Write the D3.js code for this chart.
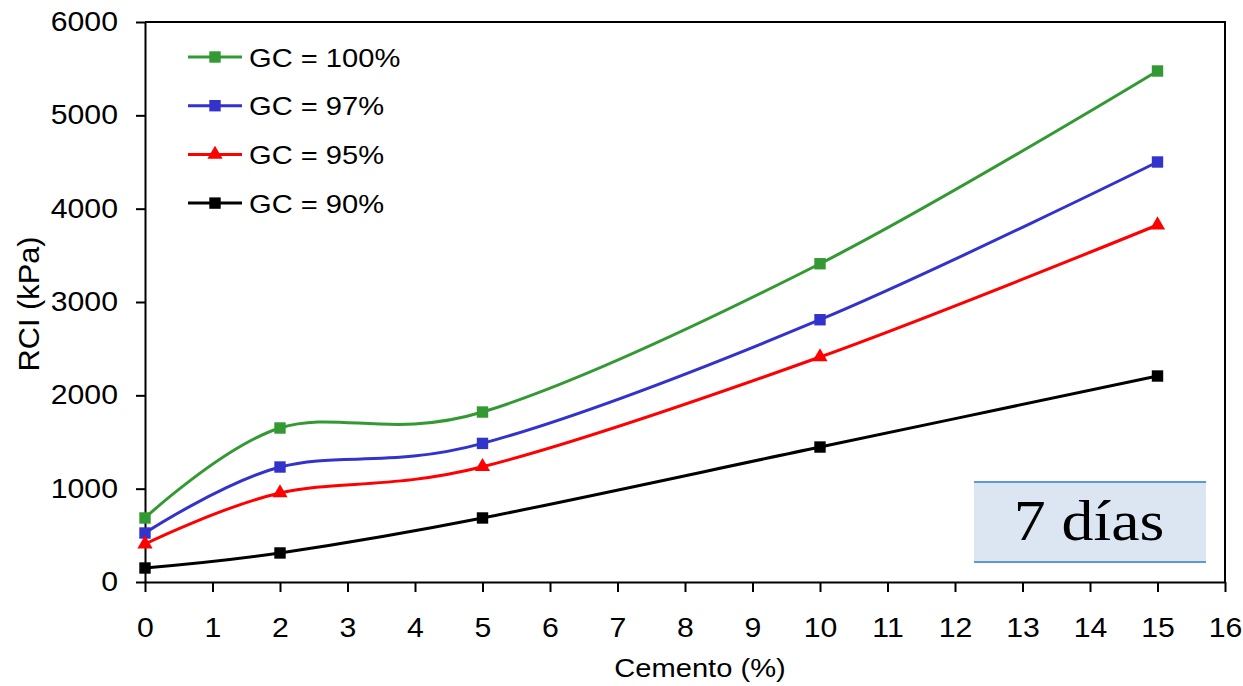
<!DOCTYPE html>
<html>
<head>
<meta charset="utf-8">
<script src="https://cdn.jsdelivr.net/npm/d3@7"></script>
<style>
  body { margin: 0; background: #fff; }
  svg { display: block; }
  text { fill: #000; }
</style>
</head>
<body>
<svg id="chart"></svg>
<script>
// Datos
let cemento = [0, 2, 5, 10, 15];
let gc100 = [686, 1650, 1821, 3410, 5475];
let gc97 = [525, 1232, 1485, 2810, 4500];
let gc95 = [407, 954, 1235, 2411, 3825];
let gc90 = [150, 311, 686, 1446, 2207];
let seriesNames = ["GC = 100%", "GC = 97%", "GC = 95%", "GC = 90%"];
let xTicks = [0, 1, 2, 3, 4, 5, 6, 7, 8, 9, 10, 11, 12, 13, 14, 15, 16];
let yTicks = [0, 1000, 2000, 3000, 4000, 5000, 6000];
let xTitle = "Cemento (%)";
let yTitle = "RCI (kPa)";
let boxLabel = "7 días";

// estilos de cada serie
let colors = ["#339933", "#3333cc", "#ff0000", "#000000"];
let markers = [d3.symbolSquare, d3.symbolSquare, d3.symbolTriangle, d3.symbolSquare];
let allSeries = [gc100, gc97, gc95, gc90];

let width = 1243, height = 686;
let plot = { left: 145, right: 1225, top: 22, bottom: 582 };
let sans = "'Liberation Sans', Arial, sans-serif";
// el texto original sale algo estirado en horizontal
let stretch = 1.12;

let svg = d3.select("#chart")
    .attr("width", width)
    .attr("height", height);

// Escalas
let x = d3.scaleLinear().domain([0, 16]).range([plot.left, plot.right]);
let y = d3.scaleLinear().domain([0, 6000]).range([plot.bottom, plot.top]);

// Borde superior y derecho del area del grafico
svg.append("path")
    .attr("d", `M${plot.left},${plot.top}H${plot.right}V${plot.bottom}`)
    .attr("fill", "none")
    .attr("stroke", "#000")
    .attr("stroke-width", 2);

// Ejes
let axisX = d3.axisBottom(x).tickValues(xTicks).tickFormat(d3.format("d"))
    .tickSize(10).tickSizeOuter(0).tickPadding(26);
let axisY = d3.axisLeft(y).tickValues(yTicks).tickFormat(d3.format("d"))
    .tickSize(9).tickSizeOuter(0).tickPadding(18);

let gx = svg.append("g")
    .attr("transform", `translate(0,${plot.bottom})`)
    .call(axisX);
let gy = svg.append("g")
    .attr("transform", `translate(${plot.left},0)`)
    .call(axisY);

[gx, gy].forEach(g => {
    g.select(".domain").attr("stroke-width", 2);
    g.selectAll(".tick line").attr("stroke-width", 2);
    g.selectAll(".tick text")
        .style("font-size", "27px")
        .style("font-family", sans)
        .attr("transform", `scale(${stretch},1)`);
});
gy.selectAll(".tick text").attr("x", -27 / stretch);

// Titulos de ejes
svg.append("text")
    .attr("transform", `translate(700,677) scale(${stretch},1)`)
    .attr("text-anchor", "middle")
    .style("font-family", sans)
    .style("font-size", "26px")
    .text(xTitle);

svg.append("text")
    .attr("transform", "translate(39,304) rotate(-90) scale(1.14,1.09)")
    .attr("text-anchor", "middle")
    .style("font-family", sans)
    .style("font-size", "27px")
    .text(yTitle);

// Lineas suavizadas (como Excel)
let line = d3.line()
    .x((d, i) => x(cemento[i]))
    .y(d => y(d))
    .curve(d3.curveCardinal.tension(0));

let gLines = svg.append("g");
allSeries.forEach((serie, k) => {
    gLines.append("path")
        .attr("d", line(serie))
        .attr("fill", "none")
        .attr("stroke", colors[k])
        .attr("stroke-width", 3);
});

// Marcadores
let markerSize = k => markers[k] === d3.symbolTriangle ? 100 : 130;
allSeries.forEach((serie, k) => {
    let sym = d3.symbol().type(markers[k]).size(markerSize(k));
    gLines.append("g").selectAll("path")
        .data(serie)
        .enter()
        .append("path")
        .attr("d", sym)
        .attr("fill", colors[k])
        .attr("transform", (d, i) => `translate(${x(cemento[i])},${y(d)})`);
});

// Leyenda
let legend = svg.append("g").attr("transform", "translate(188,57)");
seriesNames.forEach((name, k) => {
    let row = legend.append("g").attr("transform", `translate(0,${k * 48.7})`);
    row.append("line")
        .attr("x1", 0).attr("x2", 54)
        .attr("stroke", colors[k])
        .attr("stroke-width", 3);
    row.append("path")
        .attr("d", d3.symbol().type(markers[k]).size(markerSize(k)))
        .attr("fill", colors[k])
        .attr("transform", "translate(27,0)");
    row.append("text")
        .attr("transform", `translate(61,9.5) scale(${stretch},1)`)
        .style("font-family", sans)
        .style("font-size", "26px")
        .text(name);
});

// Cuadro "7 dias"
let box = { x0: 974, x1: 1206, y0: 482, y1: 562 };
let gBox = svg.append("g");
gBox.append("rect")
    .attr("x", box.x0).attr("y", box.y0)
    .attr("width", box.x1 - box.x0).attr("height", box.y1 - box.y0)
    .attr("fill", "#dce6f2");
[box.y0, box.y1].forEach(yy => {
    gBox.append("line")
        .attr("x1", box.x0).attr("x2", box.x1)
        .attr("y1", yy).attr("y2", yy)
        .attr("stroke", "#5b9bd5")
        .attr("stroke-width", 2);
});
gBox.append("text")
    .attr("transform", `translate(${(box.x0 + box.x1) / 2 - 1},540) scale(1.1,1)`)
    .attr("text-anchor", "middle")
    .style("font-family", "'Liberation Serif', 'DejaVu Serif', serif")
    .style("font-size", "58px")
    .text(boxLabel);
</script>
</body>
</html>
